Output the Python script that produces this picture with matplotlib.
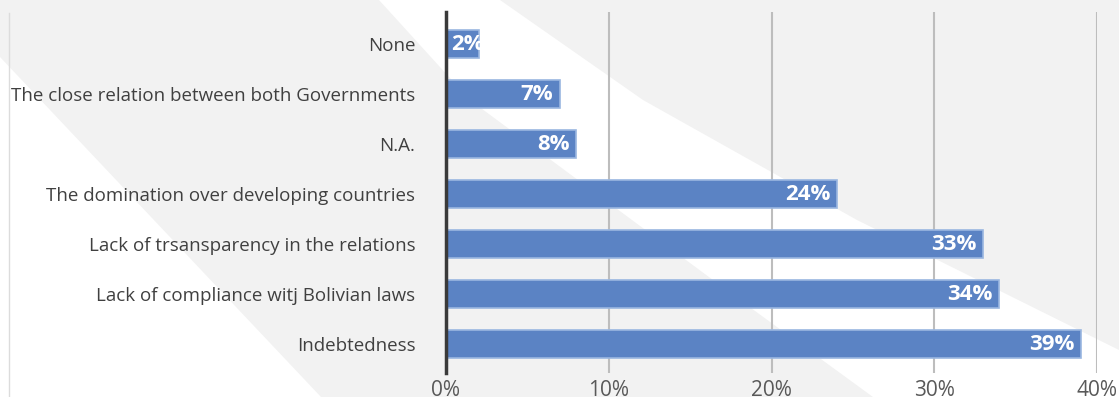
import numpy as np
import matplotlib.pyplot as plt
from matplotlib.patches import Polygon
from matplotlib.lines import Line2D

categories = [
    'None',
    'The close relation between both Governments',
    'N.A.',
    'The domination over developing countries',
    'Lack of trsansparency in the relations',
    'Lack of compliance witj Bolivian laws',
    'Indebtedness',
]
values = [2, 7, 8, 24, 33, 34, 39]
tick_values = [0, 10, 20, 30, 40]
tick_labels = ['0%', '10%', '20%', '30%', '40%']

W, H = 1119, 397
plt.rcParams['font.family'] = ['Open Sans', 'DejaVu Sans']

fig = plt.figure(figsize=(W / 100, H / 100), dpi=100)
fig.patch.set_facecolor('#f2f2f2')


def px(points):
    # pixel coords measured from the top-left corner -> figure fraction
    return [(x / W, 1 - y / H) for x, y in points]


# pale diagonal shapes behind the chart
left_edge = [(379, 0), (470, 100), (605, 200), (740, 300), (873, 397)]
right_edge = [(500, 0), (643, 100), (857, 220), (1119, 350), (1119, 397)]
shapes = [
    [(0, 57), (321, 397), (0, 397)],
    left_edge + right_edge[::-1],
]
for pts in shapes:
    fig.add_artist(Polygon(px(pts), closed=True, transform=fig.transFigure,
                           facecolor='white', edgecolor='none', zorder=-5))

fig.add_artist(Line2D([9 / W, 9 / W], [1 - 13 / H, 0], transform=fig.transFigure,
                      color='#dcdcdc', lw=1, zorder=-4))

ax = fig.add_axes([446 / W, 1 - 373 / H, (1097 - 446) / W, (373 - 12) / H])
ax.patch.set_alpha(0)

y = np.arange(len(categories))
bars = ax.barh(y, values, height=0.57, color='#5b83c4', edgecolor='#9ab6e0',
               linewidth=1.2, zorder=3)

ax.set_xlim(0, 40)
ax.set_ylim(len(categories) - 1 + 0.58, -0.64)
ax.set_xticks(tick_values)
ax.set_xticklabels(tick_labels)
ax.set_yticks(y)
ax.set_yticklabels(categories)
ax.tick_params(axis='y', length=0, pad=22, labelsize=13.5, labelcolor='#404040')
ax.tick_params(axis='x', length=0, pad=5, labelsize=15, labelcolor='#595959')

ax.grid(axis='x', color='#bdbdbd', lw=1.5, zorder=1)
ax.set_axisbelow(True)
for s in ['top', 'right', 'bottom']:
    ax.spines[s].set_visible(False)
ax.spines['left'].set_color('#3a3a3a')
ax.spines['left'].set_linewidth(2.5)
ax.spines['left'].set_zorder(5)

for bar, v in zip(bars, values):
    yc = bar.get_y() + bar.get_height() / 2
    if v < 4:
        t = ax.text(0.3, yc, f'{v}%', ha='left', va='center', color='white',
                    fontsize=16, fontweight='bold', zorder=4)
        t.set_clip_path(bar)
    else:
        ax.text(v - 0.4, yc, f'{v}%', ha='right', va='center', color='white',
                fontsize=16, fontweight='bold', zorder=4)

fig.savefig('out.png', dpi=100, facecolor=fig.get_facecolor())
